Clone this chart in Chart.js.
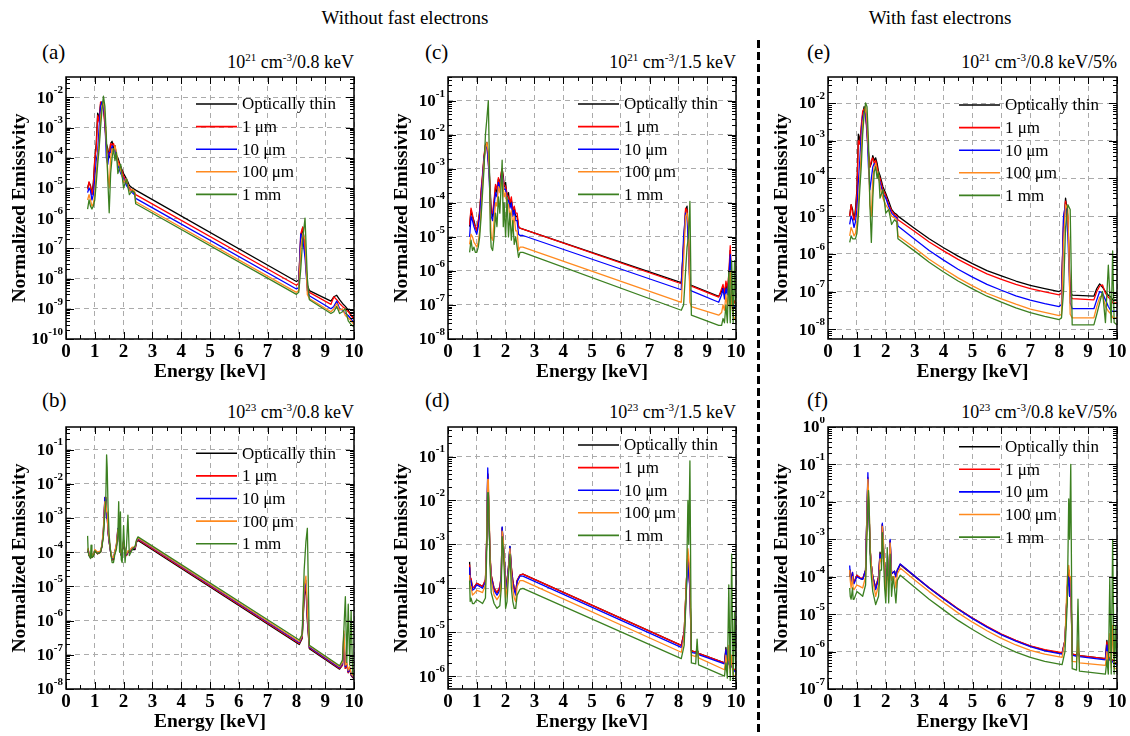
<!DOCTYPE html>
<html>
<head>
<meta charset="utf-8">
<script src="https://cdn.jsdelivr.net/npm/chart.js@4.4.0/dist/chart.umd.min.js"></script>
<style>
  body { margin: 0; width: 1130px; height: 736px; position: relative; overflow: hidden; background: #fff;
         font-family: "Liberation Serif", serif; color: #000; }
  .txt { position: absolute; white-space: nowrap; line-height: 1; }
  .head { font-size: 19px; width: 400px; text-align: center; top: 8px; }
  .tag { font-size: 21px; }
  .cond { font-size: 18px; text-align: right; }
  .cond sup { font-size: 11px; vertical-align: 7px; line-height: 0; }
  .sep { position: absolute; left: 757px; top: 40px; width: 3px; height: 696px;
         background: repeating-linear-gradient(to bottom, #000 0 8px, transparent 8px 12px); }
</style>
</head>
<body>
<div class="txt head" style="left:205px">Without fast electrons</div>
<div class="txt head" style="left:740px">With fast electrons</div>
<div class="sep"></div>

<div class="txt tag" style="left:42px;top:42px">(a)</div>
<div class="txt tag" style="left:425px;top:42px">(c)</div>
<div class="txt tag" style="left:807px;top:42px">(e)</div>
<div class="txt tag" style="left:42px;top:390px">(b)</div>
<div class="txt tag" style="left:425px;top:390px">(d)</div>
<div class="txt tag" style="left:807px;top:390px">(f)</div>

<div class="txt cond" style="right:776px;top:53px">10<sup>21</sup> cm<sup>-3</sup>/0.8 keV</div>
<div class="txt cond" style="right:394px;top:53px">10<sup>21</sup> cm<sup>-3</sup>/1.5 keV</div>
<div class="txt cond" style="right:13px;top:53px">10<sup>21</sup> cm<sup>-3</sup>/0.8 keV/5%</div>
<div class="txt cond" style="right:776px;top:403px">10<sup>23</sup> cm<sup>-3</sup>/0.8 keV</div>
<div class="txt cond" style="right:394px;top:403px">10<sup>23</sup> cm<sup>-3</sup>/1.5 keV</div>
<div class="txt cond" style="right:13px;top:403px">10<sup>23</sup> cm<sup>-3</sup>/0.8 keV/5%</div>

<script>
// series shared by every panel
const seriesLabels = ['Optically thin', '1 μm', '10 μm', '100 μm', '1 mm'];
const seriesColors = ['#000000', '#ff0000', '#0000ff', '#ff8a1f', '#3c8021'];
const xTicks = [0, 1, 2, 3, 4, 5, 6, 7, 8, 9, 10];

// (a) 10^21 cm^-3 / 0.8 keV
const energyA = [0.75, 0.8, 0.85, 0.9, 0.95, 1.0, 1.05, 1.1, 1.15, 1.2, 1.25, 1.3, 1.35, 1.4, 1.45, 1.5, 1.55, 1.6, 1.65, 1.7, 1.75, 1.8, 1.9, 2.0, 2.1, 2.2, 2.3, 2.38, 2.42, 8.0, 8.08, 8.15, 8.22, 8.3, 8.38, 8.45, 9.2, 9.3, 9.4, 9.5, 9.6, 9.7, 9.8, 9.9, 10.0];
const thinA  = [1e-5, 1.5e-5, 1.2e-5, 6e-6, 1.5e-5, 8e-5, 3e-4, 3e-3, 2e-3, 6e-3, 7e-3, 5e-3, 1.5e-3, 3e-4, 2e-4, 1e-4, 3e-4, 3.5e-4, 2e-4, 2.5e-4, 1.2e-4, 1e-4, 5e-5, 3e-5, 2e-5, 1.2e-5, 1e-5, 9e-6, 8.5e-6, 8e-9, 9e-9, 2e-7, 5e-7, 1e-7, 6e-9, 4e-9, 1.8e-9, 2.5e-9, 2.8e-9, 2e-9, 1.5e-9, 1.2e-9, 9e-10, 6e-10, 5e-10];
const um1A   = [9e-6, 1.6e-5, 1.1e-5, 6e-6, 1.2e-5, 1e-4, 2e-4, 2.5e-3, 1.5e-3, 7e-3, 6e-3, 4e-3, 1.2e-3, 2.5e-4, 1.5e-4, 1.2e-4, 3e-4, 2.5e-4, 3e-4, 2e-4, 1e-4, 8e-5, 5e-5, 2.5e-5, 1.5e-5, 1e-5, 8e-6, 7e-6, 6e-6, 6e-9, 7e-9, 3e-7, 5e-7, 8e-8, 5e-9, 3.5e-9, 1.4e-9, 2.5e-9, 2e-9, 1.5e-9, 1.2e-9, 1e-9, 8e-10, 6e-10, 4.5e-10];
const um10A  = [7e-6, 1e-5, 8e-6, 4e-6, 6e-6, 2e-5, 8e-5, 1.5e-4, 1e-3, 5e-3, 7e-3, 5e-3, 2e-3, 1e-4, 6e-5, 1.5e-4, 1.5e-4, 2.5e-4, 1.5e-4, 2e-4, 1.2e-4, 6e-5, 3e-5, 2e-5, 1.2e-5, 9e-6, 7e-6, 6e-6, 4.5e-6, 4.5e-9, 5e-9, 3e-7, 2e-7, 5e-8, 4e-9, 2.7e-9, 1e-9, 1.2e-9, 1.8e-9, 1e-9, 9e-10, 7e-10, 6e-10, 4.5e-10, 3.5e-10];
const um100A = [4e-6, 6e-6, 4e-6, 2.5e-6, 3e-6, 6e-6, 3e-5, 1e-4, 3e-4, 2e-3, 5e-3, 7e-3, 3e-3, 3e-4, 3e-5, 1e-5, 1e-4, 2e-4, 1.5e-4, 2.5e-4, 1.5e-4, 7e-5, 4e-5, 1.5e-5, 2e-5, 8e-6, 9e-6, 8e-6, 3.5e-6, 3.5e-9, 4e-9, 1e-7, 3e-7, 2e-7, 3e-9, 2.2e-9, 8e-10, 1e-9, 1.5e-9, 9e-10, 1e-9, 6e-10, 5e-10, 4e-10, 3e-10];
const mm1A   = [2e-6, 4e-6, 2.5e-6, 2e-6, 2.5e-6, 4e-6, 1.5e-5, 6e-5, 2e-4, 1e-3, 4e-3, 1.1e-2, 5e-3, 5e-4, 2e-5, 1.5e-6, 3e-5, 1e-4, 2e-4, 8e-5, 1.5e-4, 3e-5, 6e-5, 1e-5, 2e-5, 6e-6, 8e-6, 7e-6, 3e-6, 3e-9, 3.5e-9, 2e-8, 2e-7, 1e-6, 1e-8, 2e-9, 7e-10, 8e-10, 1.2e-9, 7e-10, 8e-10, 1e-9, 4e-10, 3e-10, 2.5e-10];

// (c) 10^21 cm^-3 / 1.5 keV
const energyC = [0.75, 0.8, 0.85, 0.9, 0.95, 1.0, 1.05, 1.1, 1.15, 1.2, 1.25, 1.3, 1.35, 1.4, 1.43, 1.47, 1.5, 1.55, 1.6, 1.65, 1.7, 1.75, 1.8, 1.85, 1.88, 1.92, 1.95, 2.0, 2.05, 2.1, 2.15, 2.2, 2.25, 2.3, 2.35, 2.4, 2.45, 2.5, 2.6, 8.1, 8.18, 8.25, 8.3, 8.35, 8.4, 8.45, 9.4, 9.5, 9.55, 9.6, 9.65, 9.7, 9.75, 9.8, 9.85, 9.9, 9.95, 10.0];
const thinC  = [2e-5, 6e-5, 4e-5, 3e-5, 2e-5, 1.5e-5, 2.5e-5, 6e-5, 2e-4, 6e-4, 2e-3, 5e-3, 6e-3, 2e-3, 1e-3, 2e-4, 6e-5, 4e-5, 1e-4, 3e-4, 2e-4, 5e-4, 4e-4, 7e-4, 1e-3, 6e-4, 3e-4, 4e-4, 1.5e-4, 2e-4, 8e-5, 1.2e-4, 5e-5, 7e-5, 4e-5, 4e-5, 2e-5, 1.8e-5, 1.7e-5, 4.5e-7, 5e-6, 6e-5, 8e-5, 1e-5, 4e-7, 3.8e-7, 1.8e-7, 2.5e-7, 3.5e-7, 2e-7, 4e-7, 2.5e-7, 6e-7, 4e-6, 3e-7, 1.5e-7, 1.2e-7, 1e-7];
const um1C   = [2.2e-5, 7e-5, 4.5e-5, 2.5e-5, 2e-5, 1.5e-5, 3e-5, 5e-5, 2.5e-4, 7e-4, 2.5e-3, 5e-3, 5e-3, 1.5e-3, 8e-4, 1.5e-4, 5e-5, 5e-5, 1.2e-4, 3.5e-4, 2.5e-4, 5.5e-4, 3e-4, 8e-4, 1e-3, 5e-4, 3.5e-4, 3e-4, 1.8e-4, 1.5e-4, 1e-4, 1.5e-4, 6e-5, 8e-5, 5e-5, 5e-5, 2e-5, 1.8e-5, 1.7e-5, 4.2e-7, 6e-6, 7e-5, 6e-5, 8e-6, 3.8e-7, 3.6e-7, 1.7e-7, 3e-7, 4e-7, 2.2e-7, 5e-7, 3e-7, 8e-7, 5.5e-6, 4e-7, 1.5e-7, 1.2e-7, 1e-7];
const um10C  = [1e-5, 4e-5, 3e-5, 2e-5, 1.5e-5, 1.2e-5, 2e-5, 4e-5, 1.5e-4, 5e-4, 2e-3, 4e-3, 5e-3, 1.5e-3, 5e-4, 1e-4, 4e-5, 3e-5, 8e-5, 2e-4, 1.5e-4, 4e-4, 2.5e-4, 6e-4, 8e-4, 4e-4, 2.5e-4, 2.5e-4, 1.2e-4, 1.2e-4, 7e-5, 1e-4, 4e-5, 6e-5, 3e-5, 3e-5, 1.2e-5, 1.1e-5, 1.1e-5, 2.8e-7, 1e-5, 5e-5, 4e-5, 5e-6, 2.8e-7, 2.6e-7, 1.2e-7, 2e-7, 3e-7, 1.5e-7, 3e-7, 2e-7, 5e-7, 3e-6, 2e-7, 1e-7, 9e-8, 8e-8];
const um100C = [6e-6, 1.2e-5, 1e-5, 7e-6, 6e-6, 5e-6, 7e-6, 1.5e-5, 6e-5, 3e-4, 1.5e-3, 4e-3, 6e-3, 3e-3, 1e-3, 5e-5, 1e-5, 8e-6, 3e-5, 1e-4, 8e-5, 3e-4, 2e-4, 5e-4, 7e-4, 3e-4, 1.5e-4, 2e-4, 8e-5, 9e-5, 4e-5, 6e-5, 2e-5, 4e-5, 1.5e-5, 1.5e-5, 4e-6, 5e-6, 5e-6, 1.2e-7, 2e-6, 4e-5, 5e-5, 2e-5, 1.2e-7, 9e-8, 5e-8, 6e-8, 1e-7, 7e-8, 2e-7, 8e-8, 4e-7, 1e-6, 1e-7, 5e-8, 4e-8, 3.5e-8];
const mm1C   = [3.5e-6, 8e-6, 4e-6, 5e-6, 3.5e-6, 3.5e-6, 5e-6, 1e-5, 4e-5, 2e-4, 1e-3, 1e-2, 3e-2, 1e-1, 4e-3, 1.5e-5, 5e-6, 4e-6, 1e-5, 5e-5, 2e-5, 1.5e-4, 5e-5, 4e-4, 1.8e-3, 2e-5, 1e-4, 1e-5, 1.5e-4, 1e-5, 5e-5, 8e-6, 3e-5, 6e-6, 1e-5, 5e-6, 2.5e-6, 3.5e-6, 3.5e-6, 7e-8, 1e-7, 1e-6, 5e-6, 1e-5, 1.1e-4, 5e-8, 2.5e-8, 2.5e-8, 4e-8, 3e-8, 1e-7, 3e-8, 1e-6, 3e-8, 2e-6, 3e-8, 2e-6, 3e-8];

// (e) 10^21 cm^-3 / 0.8 keV / 5% fast electrons
const energyE = [0.75, 0.8, 0.85, 0.9, 0.95, 1.0, 1.05, 1.1, 1.15, 1.2, 1.25, 1.3, 1.35, 1.4, 1.45, 1.5, 1.55, 1.6, 1.65, 1.7, 1.75, 1.8, 1.9, 2.0, 2.1, 2.2, 2.3, 2.38, 2.42, 3.0, 3.5, 4.0, 4.5, 5.0, 5.5, 6.0, 6.5, 7.0, 7.5, 8.0, 8.08, 8.15, 8.22, 8.3, 8.38, 8.45, 9.2, 9.3, 9.4, 9.5, 9.6, 9.7, 9.8, 9.85, 9.9, 10.0];
const thinE  = [1e-5, 2e-5, 1.5e-5, 8e-6, 1.5e-5, 5e-5, 1.5e-3, 1e-3, 2e-3, 5e-3, 8e-3, 6e-3, 2e-3, 5e-4, 2e-4, 2.5e-4, 4e-4, 3e-4, 3.5e-4, 2.5e-4, 1.5e-4, 1.2e-4, 6e-5, 4e-5, 2.5e-5, 1.5e-5, 1.2e-5, 1.1e-5, 1e-5, 4.7e-6, 2.5e-6, 1.45e-6, 8.7e-7, 5.5e-7, 3.6e-7, 2.6e-7, 1.9e-7, 1.45e-7, 1.2e-7, 1e-7, 1.1e-7, 5e-6, 3e-5, 1e-5, 1e-7, 8e-8, 7.5e-8, 1.2e-7, 1.6e-7, 1.3e-7, 1e-7, 8e-8, 7e-8, 6e-8, 6e-8, 6e-8];
const um1E   = [1e-5, 2e-5, 1.2e-5, 8e-6, 1.2e-5, 4e-5, 1e-3, 8e-4, 2.5e-3, 6e-3, 7e-3, 5e-3, 1.5e-3, 4e-4, 2e-4, 3e-4, 3.5e-4, 2.5e-4, 3e-4, 2e-4, 1.3e-4, 1e-4, 5e-5, 3.5e-5, 2e-5, 1.4e-5, 1.1e-5, 1e-5, 8e-6, 3.9e-6, 2.05e-6, 1.2e-6, 7.1e-7, 4.5e-7, 2.95e-7, 2.1e-7, 1.55e-7, 1.2e-7, 9.8e-8, 8.2e-8, 9e-8, 8e-6, 2.5e-5, 8e-6, 8e-8, 6.5e-8, 6e-8, 1e-7, 1.4e-7, 1.5e-7, 9e-8, 7e-8, 6e-8, 5e-8, 5e-8, 5e-8];
const um10E  = [6e-6, 1e-5, 8e-6, 5e-6, 7e-6, 1.5e-5, 8e-5, 3e-4, 1.5e-3, 4e-3, 6e-3, 5e-3, 2e-3, 2e-4, 5e-5, 1e-4, 2e-4, 2.5e-4, 2e-4, 1.5e-4, 1e-4, 8e-5, 4e-5, 3e-5, 1.8e-5, 1.2e-5, 1e-5, 9e-6, 5.5e-6, 2.45e-6, 1.22e-6, 6.8e-7, 3.9e-7, 2.4e-7, 1.54e-7, 1.08e-7, 7.7e-8, 5.9e-8, 4.8e-8, 4e-8, 4.5e-8, 1e-5, 2e-5, 3e-6, 5e-8, 3.5e-8, 3.5e-8, 6e-8, 1e-7, 9e-8, 6e-8, 4e-8, 3e-8, 3e-8, 3e-8, 3e-8];
const um100E = [3e-6, 5e-6, 4e-6, 3e-6, 3.5e-6, 6e-6, 2e-5, 1e-4, 5e-4, 3e-3, 5e-3, 8e-3, 3e-3, 5e-4, 2e-5, 1e-5, 1e-4, 2e-4, 2.5e-4, 1.5e-4, 1.2e-4, 6e-5, 3e-5, 2e-5, 1.5e-5, 1e-5, 9e-6, 8e-6, 3e-6, 1.42e-6, 7.2e-7, 4e-7, 2.3e-7, 1.41e-7, 9e-8, 6.4e-8, 4.6e-8, 3.4e-8, 2.8e-8, 2.3e-8, 2.5e-8, 2e-6, 2e-5, 1.5e-5, 2.5e-8, 2e-8, 2e-8, 4e-8, 7e-8, 8e-8, 4e-8, 3e-8, 2.5e-8, 2e-8, 2e-8, 2e-8];
const mm1E   = [2e-6, 3e-6, 2.5e-6, 2.5e-6, 2.5e-6, 3.5e-6, 1e-5, 5e-5, 2e-4, 1.5e-3, 5e-3, 1e-2, 8e-3, 1e-3, 2e-5, 2e-6, 3e-5, 1.5e-4, 2e-4, 1e-4, 1.5e-4, 3e-5, 5e-5, 1.2e-5, 1.5e-5, 6e-6, 8e-6, 7e-6, 2.5e-6, 1.18e-6, 6e-7, 3.3e-7, 1.9e-7, 1.18e-7, 7.5e-8, 5.2e-8, 3.7e-8, 2.75e-8, 2.2e-8, 1.8e-8, 2e-8, 1e-7, 5e-6, 2e-5, 1.5e-5, 1.3e-8, 1.3e-8, 2.5e-8, 5e-8, 1e-7, 1.5e-8, 5e-7, 1.5e-8, 1.2e-6, 1.5e-8, 1.3e-8];

// (b) 10^23 cm^-3 / 0.8 keV
const energyB = [0.75, 0.77, 0.8, 0.85, 0.87, 0.9, 0.95, 1.0, 1.1, 1.2, 1.25, 1.3, 1.35, 1.38, 1.41, 1.43, 1.46, 1.5, 1.55, 1.6, 1.65, 1.7, 1.75, 1.8, 1.83, 1.86, 1.89, 1.92, 1.95, 2.0, 2.05, 2.1, 2.15, 2.2, 2.3, 2.4, 2.45, 2.5, 8.1, 8.2, 8.27, 8.33, 8.38, 8.45, 9.5, 9.6, 9.65, 9.7, 9.75, 9.8, 9.85, 9.9, 9.95, 10.0];
const thinB  = [1e-4, 1.1e-4, 8e-5, 7e-5, 8e-5, 7e-5, 8e-5, 1.1e-4, 9e-5, 1e-4, 1.5e-4, 4e-4, 3.5e-3, 4e-3, 1e-3, 1.2e-3, 4e-4, 2e-4, 1e-4, 6e-5, 6e-5, 1e-4, 1.5e-4, 4e-4, 5e-4, 2e-4, 1e-4, 8e-5, 1e-4, 2e-4, 1e-4, 8e-5, 1e-4, 1e-4, 1.2e-4, 1.2e-4, 2e-4, 2.2e-4, 2e-7, 3e-7, 5e-6, 1e-5, 1e-6, 1.5e-7, 3.8e-8, 5e-8, 2e-7, 4e-8, 5e-8, 3e-8, 4e-8, 2.5e-8, 2.2e-8, 2e-8];
const um1B   = [1e-4, 1.2e-4, 8.5e-5, 7e-5, 8.5e-5, 7e-5, 8e-5, 1.1e-4, 9e-5, 1e-4, 1.5e-4, 4e-4, 4e-3, 4e-3, 1e-3, 1.2e-3, 4e-4, 2e-4, 1e-4, 6e-5, 6.5e-5, 1e-4, 1.5e-4, 4.5e-4, 5e-4, 2e-4, 1e-4, 8e-5, 1e-4, 2e-4, 1e-4, 8e-5, 1e-4, 1e-4, 1.3e-4, 1.3e-4, 2e-4, 2.35e-4, 2.15e-7, 3.2e-7, 6e-6, 1.2e-5, 1.2e-6, 1.6e-7, 4e-8, 5e-8, 2.5e-7, 4e-8, 5e-8, 3e-8, 4e-8, 2.6e-8, 2.3e-8, 2.1e-8];
const um10B  = [1.05e-4, 1.2e-4, 9e-5, 7.5e-5, 9e-5, 7.5e-5, 8.5e-5, 1.15e-4, 9.5e-5, 1.05e-4, 1.6e-4, 4.5e-4, 4e-3, 3.5e-3, 1e-3, 1.3e-3, 4e-4, 2e-4, 1e-4, 6.5e-5, 7e-5, 1.05e-4, 1.6e-4, 5e-4, 5e-4, 2e-4, 1e-4, 8.5e-5, 1.05e-4, 2.2e-4, 1.05e-4, 8.5e-5, 1.05e-4, 1.05e-4, 1.35e-4, 1.35e-4, 2.1e-4, 2.5e-4, 2.3e-7, 3.5e-7, 8e-6, 1.5e-5, 1.5e-6, 1.7e-7, 4.2e-8, 5.5e-8, 4e-7, 4.5e-8, 5.5e-8, 3.2e-8, 4.2e-8, 2.7e-8, 2.4e-8, 2.2e-8];
const um100B = [1.1e-4, 1.3e-4, 9e-5, 7.5e-5, 9e-5, 7.5e-5, 8.5e-5, 1.2e-4, 1e-4, 1.1e-4, 1.7e-4, 5e-4, 3e-3, 3e-3, 1.5e-3, 1.5e-3, 4.5e-4, 2.2e-4, 1.1e-4, 7e-5, 7e-5, 1.1e-4, 1.7e-4, 4.5e-4, 5e-4, 2.2e-4, 1.1e-4, 9e-5, 1.1e-4, 2.2e-4, 1.1e-4, 9e-5, 1.1e-4, 1.1e-4, 1.4e-4, 1.4e-4, 2.2e-4, 2.6e-4, 2.45e-7, 3.7e-7, 1e-5, 2e-5, 2e-6, 1.8e-7, 4.5e-8, 6e-8, 5e-7, 5e-8, 6e-8, 3.5e-8, 4.5e-8, 2.8e-8, 2.5e-8, 2.3e-8];
const mm1B   = [3e-4, 1e-4, 8e-5, 6.5e-5, 1.6e-4, 7e-5, 7.5e-5, 1.1e-4, 9e-5, 1e-4, 1.5e-4, 3e-4, 1.5e-3, 3e-3, 7e-2, 3e-2, 2e-3, 3e-4, 1e-4, 5e-5, 5e-5, 9e-5, 1.2e-4, 3e-4, 3e-3, 1e-4, 1.5e-3, 6e-5, 5e-5, 6e-4, 5e-5, 1.5e-4, 1.2e-3, 8e-5, 1.2e-4, 1.5e-4, 2.3e-4, 2.8e-4, 2.7e-7, 4e-7, 3e-5, 2e-4, 5e-4, 1.9e-7, 4.8e-8, 7e-8, 6e-7, 5e-6, 6e-8, 3e-6, 5e-8, 2e-6, 2.8e-8, 2.4e-8];

// (d) 10^23 cm^-3 / 1.5 keV
const energyD = [0.75, 0.77, 0.8, 0.85, 0.9, 1.0, 1.1, 1.2, 1.3, 1.34, 1.38, 1.4, 1.43, 1.46, 1.5, 1.6, 1.7, 1.8, 1.85, 1.88, 1.92, 1.96, 2.0, 2.05, 2.1, 2.15, 2.2, 2.25, 2.3, 2.35, 2.4, 2.5, 2.6, 8.1, 8.2, 8.28, 8.33, 8.36, 8.4, 8.45, 8.6, 8.65, 8.7, 9.6, 9.65, 9.7, 9.75, 9.8, 9.85, 9.9, 9.95, 10.0];
const thinD  = [4e-4, 1.5e-4, 1.6e-4, 1e-4, 1.05e-4, 1.3e-4, 1.2e-4, 1.1e-4, 1.5e-4, 1e-3, 4e-2, 1.5e-2, 3e-3, 5e-4, 2e-4, 1e-4, 8e-5, 1e-4, 2e-4, 2.4e-3, 1e-3, 4e-4, 1e-4, 1.5e-4, 3e-4, 9e-4, 3e-4, 1.5e-4, 1e-4, 8e-5, 1.5e-4, 2e-4, 2.1e-4, 5e-6, 1e-5, 1.5e-4, 6e-4, 3e-4, 1e-4, 3.8e-6, 3.5e-6, 4e-6, 3.3e-6, 2e-6, 4.5e-6, 1.8e-6, 2.5e-6, 1.6e-6, 2e-6, 1.5e-6, 1.4e-6, 1.3e-6];
const um1D   = [3.5e-4, 1.6e-4, 1.7e-4, 1.05e-4, 1.05e-4, 1.3e-4, 1.2e-4, 1.1e-4, 1.6e-4, 1.2e-3, 4e-2, 2e-2, 3e-3, 6e-4, 2e-4, 1e-4, 8e-5, 1.1e-4, 2e-4, 2.3e-3, 1e-3, 4e-4, 1e-4, 1.5e-4, 3e-4, 8e-4, 3e-4, 1.5e-4, 1e-4, 8e-5, 1.5e-4, 2e-4, 2.1e-4, 5e-6, 1e-5, 1.5e-4, 6e-4, 3e-4, 1e-4, 3.8e-6, 3.5e-6, 4e-6, 3.3e-6, 2e-6, 4e-6, 1.8e-6, 2.5e-6, 1.6e-6, 2e-6, 1.5e-6, 1.4e-6, 1.3e-6];
const um10D  = [3e-4, 1.4e-4, 1.5e-4, 9e-5, 9.5e-5, 1.2e-4, 1.1e-4, 1e-4, 1.4e-4, 1e-3, 5.5e-2, 2e-2, 3e-3, 5e-4, 1.8e-4, 9e-5, 7e-5, 9e-5, 2e-4, 2.5e-3, 1e-3, 5e-4, 9e-5, 1.4e-4, 3e-4, 9e-4, 2.5e-4, 1.3e-4, 9e-5, 7e-5, 1.4e-4, 1.9e-4, 1.9e-4, 4.5e-6, 8e-6, 1e-4, 4e-4, 2e-4, 1e-4, 3.5e-6, 3.3e-6, 3.8e-6, 3.1e-6, 1.9e-6, 4e-6, 1.7e-6, 2.2e-6, 1.5e-6, 1.8e-6, 1.4e-6, 1.3e-6, 1.2e-6];
const um100D = [2e-4, 1e-4, 1.1e-4, 7e-5, 7.5e-5, 9e-5, 8.5e-5, 8e-5, 1.2e-4, 1e-3, 3e-2, 3e-2, 5e-3, 5e-4, 1.5e-4, 7e-5, 5.5e-5, 7e-5, 1.5e-4, 2e-3, 1.2e-3, 4e-4, 6e-5, 1e-4, 2.5e-4, 8e-4, 2e-4, 1e-4, 6e-5, 5e-5, 1.1e-4, 1.5e-4, 1.5e-4, 3.5e-6, 8e-6, 1.5e-4, 8e-4, 5e-4, 2e-4, 3e-6, 2.8e-6, 4e-6, 2.6e-6, 1.4e-6, 3e-6, 1.3e-6, 5e-6, 1.2e-6, 3e-6, 1.1e-6, 1e-6, 9.5e-7];
const mm1D   = [1.5e-4, 5e-5, 6e-5, 4.5e-5, 4.5e-5, 5.5e-5, 5e-5, 4.5e-5, 6e-5, 5e-4, 1.5e-2, 1.5e-2, 3e-3, 3e-4, 8e-5, 4.5e-5, 3.5e-5, 4e-5, 1e-4, 1.5e-3, 8e-4, 2e-4, 3.5e-5, 5e-5, 2e-4, 6e-4, 1e-4, 5e-5, 3.5e-5, 3.5e-5, 7e-5, 9.5e-5, 1e-4, 2.5e-6, 5e-6, 1e-4, 1e-2, 1e-3, 8e-2, 2e-6, 1.9e-6, 7e-6, 1.8e-6, 1e-6, 2e-6, 9e-7, 1.2e-4, 8e-7, 6e-4, 8e-7, 3e-5, 7e-7];

// (f) 10^23 cm^-3 / 0.8 keV / 5% fast electrons
const energyF = [0.75, 0.77, 0.8, 0.85, 0.87, 0.9, 1.0, 1.1, 1.2, 1.3, 1.34, 1.38, 1.4, 1.43, 1.46, 1.5, 1.55, 1.65, 1.75, 1.8, 1.85, 1.88, 1.92, 1.96, 2.0, 2.05, 2.1, 2.15, 2.2, 2.25, 2.3, 2.35, 2.4, 2.5, 3.0, 3.5, 4.0, 4.5, 5.0, 5.5, 6.0, 6.5, 7.0, 7.5, 8.1, 8.2, 8.28, 8.33, 8.36, 8.4, 8.45, 8.6, 8.65, 8.7, 9.6, 9.65, 9.7, 9.75, 9.8, 9.85, 9.9, 9.95, 10.0];
const thinF  = [1e-4, 1.5e-4, 8e-5, 1.2e-4, 8e-5, 7e-5, 1.1e-4, 9e-5, 8.5e-5, 1.5e-4, 3e-3, 4e-2, 1e-2, 3e-3, 5e-4, 2e-4, 1e-4, 5e-5, 1e-4, 4.5e-4, 3e-4, 2.5e-3, 5e-4, 2e-4, 5e-5, 1.5e-4, 8e-5, 9e-4, 1.2e-4, 1.3e-4, 1.4e-4, 1e-4, 1.5e-4, 2.1e-4, 1.02e-4, 5e-5, 2.6e-5, 1.38e-5, 7.8e-6, 4.6e-6, 2.9e-6, 1.95e-6, 1.4e-6, 1.1e-6, 8.9e-7, 2e-6, 5e-5, 1.5e-4, 3e-5, 1e-4, 8.5e-7, 8e-7, 1e-6, 7.8e-7, 6.5e-7, 2e-6, 6e-7, 7e-7, 5.5e-7, 6e-7, 5e-7, 5e-7, 5e-7];
const um1F   = [1.2e-4, 1.4e-4, 8e-5, 1.3e-4, 8e-5, 7e-5, 1.1e-4, 9.5e-5, 9e-5, 1.5e-4, 3e-3, 4.5e-2, 1.2e-2, 3e-3, 5e-4, 2e-4, 1e-4, 5e-5, 1e-4, 4e-4, 3e-4, 2.5e-3, 5e-4, 2e-4, 5e-5, 1.5e-4, 9e-5, 9e-4, 1.2e-4, 1.3e-4, 1.4e-4, 1e-4, 1.5e-4, 2.15e-4, 1.05e-4, 5.1e-5, 2.65e-5, 1.4e-5, 7.9e-6, 4.7e-6, 2.95e-6, 2e-6, 1.43e-6, 1.12e-6, 9.3e-7, 2e-6, 5e-5, 1.5e-4, 3e-5, 1e-4, 8.7e-7, 8e-7, 1e-6, 7.8e-7, 6.5e-7, 1.8e-6, 6e-7, 7e-7, 5.5e-7, 6e-7, 5e-7, 5e-7, 5e-7];
const um10F  = [2e-4, 1.2e-4, 7e-5, 1.3e-4, 7e-5, 6.5e-5, 1e-4, 9e-5, 8.5e-5, 1.5e-4, 3e-3, 6e-2, 1.5e-2, 3e-3, 5e-4, 2e-4, 1e-4, 4.5e-5, 9e-5, 4e-4, 3e-4, 2.7e-3, 6e-4, 2e-4, 5e-5, 1.5e-4, 1e-4, 1e-3, 1.2e-4, 1.3e-4, 1.4e-4, 1e-4, 1.5e-4, 2.2e-4, 1.05e-4, 5e-5, 2.55e-5, 1.35e-5, 7.6e-6, 4.5e-6, 2.8e-6, 1.9e-6, 1.35e-6, 1.05e-6, 8.5e-7, 2e-6, 5e-5, 1e-4, 3e-5, 8e-5, 8e-7, 7.5e-7, 9e-7, 7.3e-7, 6e-7, 1.5e-6, 5.5e-7, 6.5e-7, 5e-7, 5.5e-7, 4.8e-7, 4.6e-7, 4.5e-7];
const um100F = [1.5e-4, 8e-5, 5e-5, 1e-4, 5e-5, 4.5e-5, 6e-5, 5.5e-5, 5e-5, 1e-4, 2e-3, 4e-2, 2e-2, 5e-3, 6e-4, 2e-4, 8e-5, 3e-5, 6e-5, 3e-4, 2.5e-4, 2.2e-3, 8e-4, 2e-4, 3e-5, 1e-4, 8e-5, 8e-4, 8e-5, 1e-4, 1e-4, 5e-5, 1.2e-4, 1.7e-4, 8.2e-5, 4e-5, 2.05e-5, 1.08e-5, 6.1e-6, 3.6e-6, 2.25e-6, 1.5e-6, 1.08e-6, 8.5e-7, 7e-7, 2e-6, 1e-4, 2e-4, 1e-4, 1e-4, 5.5e-7, 5.3e-7, 2e-6, 5e-7, 4.3e-7, 1e-6, 4e-7, 3e-6, 3.8e-7, 5e-6, 3.6e-7, 3.5e-7, 3.5e-7];
const mm1F   = [5e-5, 3e-5, 2.5e-5, 5e-5, 2.5e-5, 2.5e-5, 4e-5, 3.5e-5, 3e-5, 6e-5, 8e-4, 1e-2, 2e-2, 5e-3, 3e-4, 1e-4, 4e-5, 1.8e-5, 3e-5, 1.5e-4, 1.5e-4, 1.5e-3, 3e-4, 5e-5, 2e-5, 6e-4, 2e-5, 4e-4, 3e-5, 1e-4, 5e-5, 2e-5, 8e-5, 1.1e-4, 5.2e-5, 2.5e-5, 1.3e-5, 6.8e-6, 3.9e-6, 2.3e-6, 1.45e-6, 9.7e-7, 7e-7, 5.5e-7, 4.5e-7, 1e-6, 2e-5, 1.2e-2, 1e-3, 1e-1, 3.5e-7, 3.2e-7, 2.5e-5, 3e-7, 2.5e-7, 6e-7, 2.5e-7, 9e-5, 2.5e-7, 1e-3, 2.5e-7, 5e-6, 2.5e-7];

// plot box of each panel in page pixels: [left, top, right, bottom]
const panels = [
  { energy: energyA, series: [thinA, um1A, um10A, um100A, mm1A], yMin: 1e-10, yMax: 4.7e-2, box: [66, 77, 354, 339], legendTop: 27 },
  { energy: energyC, series: [thinC, um1C, um10C, um100C, mm1C], yMin: 1e-8, yMax: 0.5, box: [448, 77, 736, 339], legendTop: 27 },
  { energy: energyE, series: [thinE, um1E, um10E, um100E, mm1E], yMin: 5.5e-9, yMax: 4.9e-2, box: [828, 77, 1117, 339], legendTop: 28 },
  { energy: energyB, series: [thinB, um1B, um10B, um100B, mm1B], yMin: 1e-8, yMax: 0.457, box: [66, 427, 354, 689], legendTop: 26.3 },
  { energy: energyD, series: [thinD, um1D, um10D, um100D, mm1D], yMin: 5.1e-7, yMax: 0.47, box: [448, 427, 736, 689], legendTop: 18 },
  { energy: energyF, series: [thinF, um1F, um10F, um100F, mm1F], yMin: 1e-7, yMax: 1, box: [828, 427, 1117, 689], legendTop: 19.7 }
];

const FONT = '"Liberation Serif", serif';
Chart.defaults.font.family = FONT;
Chart.defaults.color = '#000';

function decadeTicks(min, max) {
  const out = [];
  const lo = Math.ceil(Math.log10(min) - 1e-9), hi = Math.floor(Math.log10(max) + 1e-9);
  for (let d = lo; d <= hi; d++) out.push({ value: parseFloat('1e' + d) });
  return out;
}

// frame with inward ticks, 10^n labels and the in-plot legend
const spectrumFrame = {
  id: 'spectrumFrame',
  afterDraw(chart, args, opts) {
    const { ctx, chartArea: a, scales: { x, y } } = chart;
    ctx.save();
    ctx.strokeStyle = '#000';
    ctx.lineWidth = 1;
    const seg = (x1, y1, x2, y2) => { ctx.beginPath(); ctx.moveTo(x1, y1); ctx.lineTo(x2, y2); ctx.stroke(); };

    for (let e = 0; e <= 10.001; e += 0.5) {
      const px = Math.round(x.getPixelForValue(e)) + 0.5;
      const len = Number.isInteger(e) ? 7 : 4;
      seg(px, a.bottom, px, a.bottom - len);
      seg(px, a.top, px, a.top + len);
    }
    const lo = Math.floor(Math.log10(y.min)), hi = Math.ceil(Math.log10(y.max));
    for (let d = lo; d <= hi; d++) {
      for (let k = 1; k <= 9; k++) {
        const v = k * parseFloat('1e' + d);
        if (v < y.min * 0.999 || v > y.max * 1.001) continue;
        const py = Math.round(y.getPixelForValue(v)) + 0.5;
        const len = k === 1 ? 8 : 4;
        seg(a.left, py, a.left + len, py);
        seg(a.right, py, a.right - len, py);
      }
    }
    ctx.lineWidth = 1.5;
    ctx.strokeRect(a.left, a.top, a.right - a.left, a.bottom - a.top);

    // y labels as 10 with a raised exponent
    ctx.fillStyle = '#000';
    ctx.textAlign = 'right';
    ctx.textBaseline = 'middle';
    y.ticks.forEach(t => {
      const py = y.getPixelForValue(t.value);
      const exp = String(Math.round(Math.log10(t.value)));
      ctx.font = 'bold 11px ' + FONT;
      const w = ctx.measureText(exp).width;
      ctx.fillText(exp, a.left - 3, py - 7);
      ctx.font = 'bold 17px ' + FONT;
      ctx.fillText('10', a.left - 3 - w, py + 1);
    });

    // legend
    ctx.textAlign = 'left';
    ctx.font = '17px ' + FONT;
    seriesLabels.forEach((lab, i) => {
      const ly = a.top + opts.legendTop + i * 22.6;
      ctx.strokeStyle = seriesColors[i];
      ctx.lineWidth = 1.6;
      seg(a.right - 158, ly, a.right - 117, ly);
      ctx.fillText(lab, a.right - 112, ly + 1);
    });
    ctx.restore();
  }
};

function buildPanel(p) {
  const [bl, bt, br, bb] = p.box;
  const w = br - bl + 75 + 14, h = bb - bt + 10 + 45;
  const canvas = document.createElement('canvas');
  canvas.width = w;
  canvas.height = h;
  canvas.style.cssText = `position:absolute;left:${bl - 75}px;top:${bt - 10}px;width:${w}px;height:${h}px`;
  document.body.appendChild(canvas);

  const gridOpts = { color: '#ababab', lineWidth: 1, drawTicks: false };
  new Chart(canvas, {
    type: 'line',
    data: {
      datasets: p.series.map((vals, i) => ({
        label: seriesLabels[i],
        data: p.energy.map((e, k) => ({ x: e, y: vals[k] })),
        borderColor: seriesColors[i],
        borderWidth: 1.3,
        borderJoinStyle: 'round',
        pointRadius: 0,
        tension: 0,
        fill: false,
        order: seriesLabels.length - i
      }))
    },
    options: {
      responsive: false,
      animation: false,
      devicePixelRatio: 1,
      layout: { padding: { left: 17, top: 10, right: 14, bottom: 0 } },
      plugins: {
        legend: { display: false },
        tooltip: { enabled: false },
        spectrumFrame: { legendTop: p.legendTop }
      },
      scales: {
        x: {
          type: 'linear',
          min: 0,
          max: 10,
          afterBuildTicks: s => { s.ticks = xTicks.map(v => ({ value: v })); },
          ticks: { padding: 2, maxRotation: 0, autoSkip: false, font: { family: FONT, size: 19, weight: 'bold' }, color: '#000' },
          grid: gridOpts,
          border: { display: false, dash: [5, 4] },
          title: { display: true, text: 'Energy [keV]', font: { family: FONT, size: 19.5, weight: 'bold' }, padding: 0, color: '#000' },
          afterFit: s => { s.height = 45; }
        },
        y: {
          type: 'logarithmic',
          min: p.yMin,
          max: p.yMax,
          bounds: 'data',
          afterBuildTicks: s => { s.ticks = decadeTicks(s.min, s.max); },
          ticks: { display: false },
          grid: gridOpts,
          border: { display: false, dash: [5, 4] },
          title: { display: true, text: 'Normalized Emissivity', font: { family: FONT, size: 19.5, weight: 'bold' }, padding: 0, color: '#000' },
          afterFit: s => { s.width = 58; }
        }
      }
    },
    plugins: [spectrumFrame]
  });
}

// canvas text needs the serif faces loaded before the charts are drawn
Promise.all([
  document.fonts.load('17px "Liberation Serif"'),
  document.fonts.load('bold 17px "Liberation Serif"')
]).then(() => panels.forEach(buildPanel), () => panels.forEach(buildPanel));
</script>
</body>
</html>
